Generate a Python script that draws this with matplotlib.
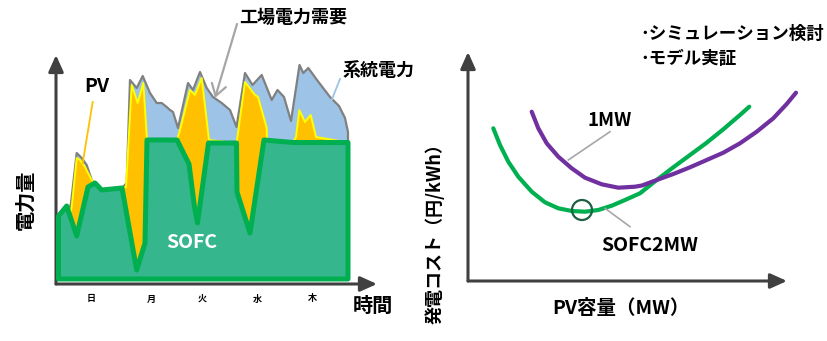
"""
Two panels: daily power mix (SOFC / PV / grid) and generation cost vs PV capacity.
"""
import matplotlib
matplotlib.use('Agg')
import matplotlib.pyplot as plt
from matplotlib.patches import Polygon, Circle
import numpy as np

OUTPUT = 'out.png'

# --- left panel: power over time (arbitrary units) ---
SOFC_T = [2.5, 10.7, 20.7, 32, 39, 45.7, 66, 80.7, 89, 91, 121, 133, 138.5, 141.5,
          152.5, 180.5, 181, 194, 208, 237, 292]
SOFC_P = [68, 78, 48, 97, 101, 94, 96, 14, 41, 144, 144, 120, 77, 61,
          141, 141, 92, 51, 144, 141.5, 141.5]

PV_TOP_T = [2.5, 10.7, 14, 15.7, 20.7, 24, 29, 35.7, 39, 45.7, 66, 70, 75.7, 81.7,
            87.3, 91, 121, 124, 134, 139, 145.7, 153, 180.5, 182, 189, 199, 202,
            210.7, 211, 237, 240, 243.3, 249, 254.7, 260, 292]
PV_TOP_P = [68, 78, 70, 77, 126, 124, 117, 104, 101, 94, 96, 97, 199, 181,
            201, 144, 144, 154, 194, 189, 206, 144, 141, 151, 202, 189, 187,
            156, 144, 141.5, 147, 174, 162, 169, 147, 141.5]

DEMAND_T = [2.5, 10.7, 13, 15, 20.7, 25.7, 30.7, 35.7, 39, 45.7, 66, 70.7, 74, 80.7,
            86.7, 94, 100.7, 105.7, 110.7, 114, 117, 122, 132, 137, 144, 150.7,
            157, 165.7, 174, 180.5, 189, 196.5, 205.7, 215.7, 221.5, 228, 235,
            243.5, 247.3, 252.3, 261, 274, 283, 289, 292, 292]
DEMAND_P = [68, 78, 72, 81, 131, 126, 119, 104, 101, 94, 96, 101, 204, 196,
            208, 191, 181, 181, 177, 174, 172, 156, 201, 194, 212, 196,
            187, 181, 174, 157, 211, 199, 209, 184, 194, 187, 163,
            219, 211, 216, 204, 187, 178, 166, 152, 141.5]

DAYS = ['日', '月', '火', '水', '木']
DAY_T = [35, 95, 145.7, 201.7, 256.3]

# --- right panel: generation cost vs PV capacity ---
MW1_X = [63.7, 70.3, 78.7, 90.3, 103.7, 117, 133.7, 150.3, 167, 174, 188.7, 205.3,
         222, 238.7, 255.3, 272, 288.7, 305.3, 318.7, 328]
MW1_Y = [169.3, 152.7, 137.7, 124.3, 112.7, 103.3, 96.7, 93.3, 94.3, 95.5, 101, 107,
         113.7, 121, 128.3, 137.7, 149.3, 162.7, 177, 188.3]

SOFC2_X = [25.3, 32, 40.3, 50.3, 63.7, 77, 90.3, 103.7, 117, 130.3, 143.7, 157, 172,
           188.7, 205.3, 222, 238.7, 255.3, 272, 281.3]
SOFC2_Y = [152.7, 136, 119.3, 104.3, 89.3, 78.7, 72.7, 70, 69.3, 71, 75.3, 81, 87.7,
           101, 113.7, 126, 138.3, 151.7, 166, 174.3]

OPTIMUM = (114, 71)

AXIS_COLOR = '#404040'


def arrow_axes(ax, xmax, ymax):
    for tip in [(xmax, 0), (0, ymax)]:
        ax.annotate('', xy=tip, xytext=(0, 0), annotation_clip=False,
                    arrowprops=dict(arrowstyle='-|>,head_length=1.0,head_width=0.45',
                                    mutation_scale=10, color=AXIS_COLOR, lw=2.2,
                                    shrinkA=0, shrinkB=0))
    ax.set_xlim(0, xmax)
    ax.set_ylim(0, ymax)
    ax.axis('off')


def area(t, p, base=5):
    return np.column_stack([np.r_[t[0], t, t[-1]], np.r_[base, p, base]])


def plot_power_mix(fig):
    ax = fig.add_axes([56 / 827, 57 / 341, 321 / 827, 229 / 341])
    arrow_axes(ax, 321, 229)

    ax.add_patch(Polygon(area(DEMAND_T, DEMAND_P), closed=True, facecolor='#9DC3E6',
                         edgecolor='none', zorder=1))
    ax.plot(DEMAND_T, DEMAND_P, color='#808080', lw=1.6, zorder=2)
    ax.add_patch(Polygon(area(PV_TOP_T, PV_TOP_P), closed=True, facecolor='#FFC000',
                         edgecolor='none', zorder=3))
    ax.plot(PV_TOP_T, PV_TOP_P, color='#FFFF00', lw=1.4, zorder=4)
    ax.add_patch(Polygon(area(SOFC_T, SOFC_P), closed=True, facecolor='#35B68D',
                         edgecolor='#00B050', lw=3.6, joinstyle='round', zorder=5))

    ax.text(135.5, 41.5, 'SOFC', color='white', fontsize=14, fontweight='bold',
            ha='center', va='center', zorder=6)
    ax.text(40.7, 198, 'PV', fontsize=14, fontweight='bold', ha='center', va='center')
    ax.plot([36.7, 26.7], [182, 121], color='#FFC000', lw=1.3, zorder=6)

    ax.text(237, 267, '工場電力需要', fontsize=13, fontweight='bold',
            ha='center', va='center')
    ax.annotate('', xy=(159, 186), xytext=(181, 260), annotation_clip=False,
                arrowprops=dict(arrowstyle='->,head_length=0.55,head_width=0.35',
                                mutation_scale=15, color='#A6A6A6', lw=1.6,
                                shrinkA=0, shrinkB=0), zorder=7)
    ax.text(323, 214, '系統電力', fontsize=13, fontweight='bold',
            ha='center', va='center')
    ax.plot([284, 275.7], [205, 184], color='#9DC3E6', lw=1.3, zorder=6,
            clip_on=False)

    for day, t in zip(DAYS, DAY_T):
        ax.text(t, -15, day, fontsize=6.5, fontweight='bold', ha='center', va='center')
    ax.text(317, -21, '時間', fontsize=14.5, fontweight='bold', ha='center', va='center')
    ax.text(-31, 84, '電力量', fontsize=14.5, fontweight='bold', rotation=90,
            ha='center', va='center')


def plot_cost_curve(fig):
    ax = fig.add_axes([468 / 827, 60 / 341, 319 / 827, 229 / 341])
    arrow_axes(ax, 319, 229)

    ax.plot(SOFC2_X, SOFC2_Y, color='#00B050', lw=3, solid_capstyle='round',
            clip_on=False, zorder=3)
    ax.plot(MW1_X, MW1_Y, color='#7030A0', lw=3, solid_capstyle='round',
            clip_on=False, zorder=4)
    ax.add_patch(Circle(OPTIMUM, 10, facecolor='none', edgecolor='#1F5F43',
                        lw=1.6, zorder=5))

    ax.text(142, 161, '1MW', fontsize=13.5, fontweight='bold', ha='center', va='center')
    ax.plot([142, 100.3], [149.3, 121], color='#A6A6A6', lw=1.2, zorder=6)
    ax.text(182, 35.5, 'SOFC2MW', fontsize=14, fontweight='bold',
            ha='center', va='center')
    ax.plot([137, 162], [72.7, 54.3], color='#A6A6A6', lw=1.2, zorder=6)

    ax.text(172, 247.5, '･シミュレーション検討', fontsize=12.6, fontweight='bold',
            ha='left', va='center')
    ax.text(172, 222.5, '･モデル実証', fontsize=12.6, fontweight='bold',
            ha='left', va='center')

    ax.text(152.5, -28, 'PV容量（MW）', fontsize=14, fontweight='bold',
            ha='center', va='center')
    ax.text(-33, 147, '発電コスト（円/kWh）', fontsize=13, fontweight='bold',
            rotation=90, ha='center', va='top')


if __name__ == "__main__":
    plt.rcParams['font.family'] = ['Noto Sans CJK JP', 'DejaVu Sans']
    fig = plt.figure(figsize=(8.27, 3.41), dpi=100)
    plot_power_mix(fig)
    plot_cost_curve(fig)
    fig.savefig(OUTPUT, dpi=100)
    print(f"Plotted {OUTPUT}")
